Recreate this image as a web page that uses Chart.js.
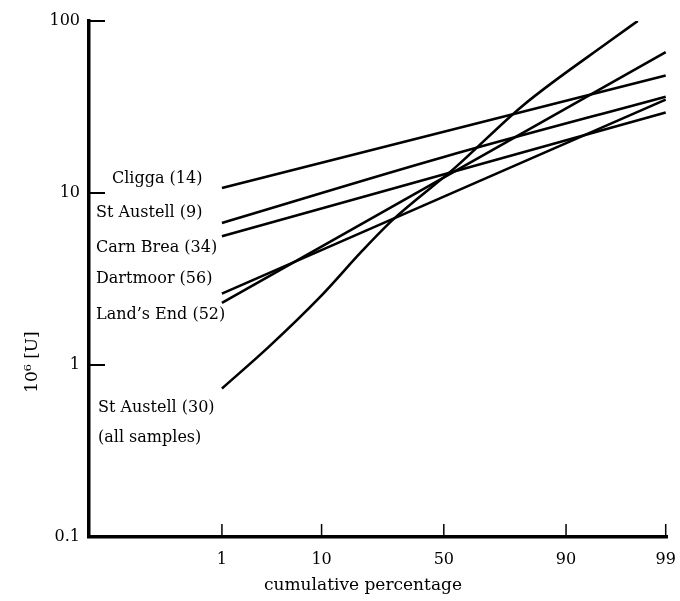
<!DOCTYPE html>
<html lang="en">
<head>
<meta charset="UTF-8" />
<title>Uranium log-probability plot</title>
<script src="https://cdn.jsdelivr.net/npm/chart.js"></script>
<style>
    body {
        margin: 0;
        background: #fff;
    }
    #grafico {
        display: block;
    }
</style>
</head>
<body>
<canvas id="grafico" width="680" height="601"></canvas>
<script>
    // eixos
    const xTicks = [1, 10, 50, 90, 99];          // cumulative percentage
    const yTicks = [0.1, 1, 10, 100];            // 10^6 [U]

    // series (percent, value)
    const pctCligga = [1, 99];
    const uCligga = [10.7, 48.2];

    const pctStAustell9 = [1, 50, 99];
    const uStAustell9 = [6.7, 16.2, 36.3];

    const pctCarnBrea = [1, 99];
    const uCarnBrea = [5.6, 29.4];

    const pctDartmoor = [1, 99];
    const uDartmoor = [2.6, 34.9];

    const pctLandsEnd = [1, 99];
    const uLandsEnd = [2.3, 65.9];

    const pctStAustell30 = [1, 3.3, 9.7, 19.8, 29.7, 54.6, 79.6, 96.1, 97.9];
    const uStAustell30 = [0.73, 1.27, 2.48, 4.65, 7.0, 14.0, 32.2, 78, 100];

    const seriesLabels = [
        ['Cligga (14)'],
        ['St Austell (9)'],
        ['Carn Brea (34)'],
        ['Dartmoor (56)'],
        ['Land\u2019s End (52)'],
        ['St Austell (30)', '(all samples)']
    ];

    // inverse normal CDF (Acklam) - probability axis
    function probit(p) {
        const a = [-39.69683028665376, 220.9460984245205, -275.9285104469687, 138.3577518672690, -30.66479806614716, 2.506628277459239];
        const b = [-54.47609879822406, 161.5858368580409, -155.6989798598866, 66.80131188771972, -13.28068155211977];
        const c = [-0.007784894002430293, -0.3223964580411365, -2.400758277161838, -2.549732539343734, 4.374664141464968, 2.938163982698783];
        const d = [0.007784695709041462, 0.3224671290700398, 2.445134137142996, 3.754408661907416];
        const pl = 0.02425;
        let q, r;
        if (p < pl) {
            q = Math.sqrt(-2 * Math.log(p));
            return (((((c[0]*q+c[1])*q+c[2])*q+c[3])*q+c[4])*q+c[5]) / ((((d[0]*q+d[1])*q+d[2])*q+d[3])*q+1);
        }
        if (p > 1 - pl) {
            q = Math.sqrt(-2 * Math.log(1 - p));
            return -(((((c[0]*q+c[1])*q+c[2])*q+c[3])*q+c[4])*q+c[5]) / ((((d[0]*q+d[1])*q+d[2])*q+d[3])*q+1);
        }
        q = p - 0.5;
        r = q * q;
        return (((((a[0]*r+a[1])*r+a[2])*r+a[3])*r+a[4])*r+a[5])*q / (((((b[0]*r+b[1])*r+b[2])*r+b[3])*r+b[4])*r+1);
    }

    function serie(pcts, vals, curva) {
        return {
            data: pcts.map((p, i) => ({ x: probit(p / 100), y: vals[i] })),
            borderColor: '#000',
            borderWidth: 2.6,
            pointRadius: 0,
            fill: false,
            tension: curva ? 0.4 : 0,
            cubicInterpolationMode: curva ? 'monotone' : 'default'
        };
    }

    const fonte = 'DejaVu Serif';
    const cor = '#000';

    // rotulos, ticks internos e titulos
    const extras = {
        id: 'extras',
        afterDraw(chart) {
            const ctx = chart.ctx;
            const xs = chart.scales.x, ys = chart.scales.y;
            const area = chart.chartArea;
            ctx.save();
            ctx.strokeStyle = cor;
            ctx.lineWidth = 2;
            yTicks.slice(1).forEach(v => {
                const y = ys.getPixelForValue(v);
                ctx.beginPath();
                ctx.moveTo(area.left, y);
                ctx.lineTo(area.left + 16, y);
                ctx.stroke();
            });
            ctx.lineWidth = 1.5;
            xTicks.forEach(p => {
                const x = xs.getPixelForValue(probit(p / 100));
                ctx.beginPath();
                ctx.moveTo(x, area.bottom);
                ctx.lineTo(x, area.bottom - 13);
                ctx.stroke();
            });

            ctx.fillStyle = cor;
            ctx.font = '16px "' + fonte + '"';
            ctx.textBaseline = 'middle';
            ctx.textAlign = 'left';
            const pos = [[112, 179], [96, 213], [96, 248], [96, 279], [96, 315], [98, 408]];
            seriesLabels.forEach((linhas, i) => {
                linhas.forEach((t, j) => ctx.fillText(t, pos[i][0], pos[i][1] + j * 30));
            });

            ctx.font = '17px "' + fonte + '"';
            ctx.textAlign = 'center';
            ctx.fillText('cumulative percentage', 363, 586);

            ctx.translate(33, 362);
            ctx.rotate(-Math.PI / 2);
            ctx.fillText('10\u2076 [U]', 0, 0);
            ctx.restore();
        }
    };

    new Chart(document.getElementById('grafico'), {
        type: 'line',
        data: {
            datasets: [
                serie(pctCligga, uCligga, false),
                serie(pctStAustell9, uStAustell9, true),
                serie(pctCarnBrea, uCarnBrea, false),
                serie(pctDartmoor, uDartmoor, false),
                serie(pctLandsEnd, uLandsEnd, false),
                serie(pctStAustell30, uStAustell30, true)
            ]
        },
        options: {
            responsive: false,
            animation: false,
            layout: { padding: { left: 0, right: 13, top: 21, bottom: 0 } },
            plugins: {
                legend: { display: false },
                tooltip: { enabled: false }
            },
            scales: {
                x: {
                    type: 'linear',
                    min: -3.72,
                    max: 2.34,
                    grid: { display: false, drawTicks: false },
                    border: { display: true, width: 3.5, color: cor },
                    afterBuildTicks: s => { s.ticks = xTicks.map(p => ({ value: probit(p / 100) })); },
                    afterFit: s => { s.height = 64; s.paddingLeft = 0; s.paddingRight = 0; },
                    ticks: {
                        color: cor,
                        padding: 13,
                        maxRotation: 0,
                        autoSkip: false,
                        font: { family: fonte, size: 16 },
                        callback: (v, i) => String(xTicks[i])
                    }
                },
                y: {
                    type: 'logarithmic',
                    min: 0.1,
                    max: 100,
                    grid: { display: false, drawTicks: false },
                    border: { display: true, width: 3.5, color: cor },
                    afterBuildTicks: s => { s.ticks = yTicks.map(v => ({ value: v })); },
                    afterFit: s => { s.width = 89; s.paddingTop = 0; s.paddingBottom = 0; },
                    ticks: {
                        color: cor,
                        padding: 9,
                        autoSkip: false,
                        font: { family: fonte, size: 16 },
                        callback: v => String(v)
                    }
                }
            }
        },
        plugins: [extras]
    });
</script>
</body>
</html>
